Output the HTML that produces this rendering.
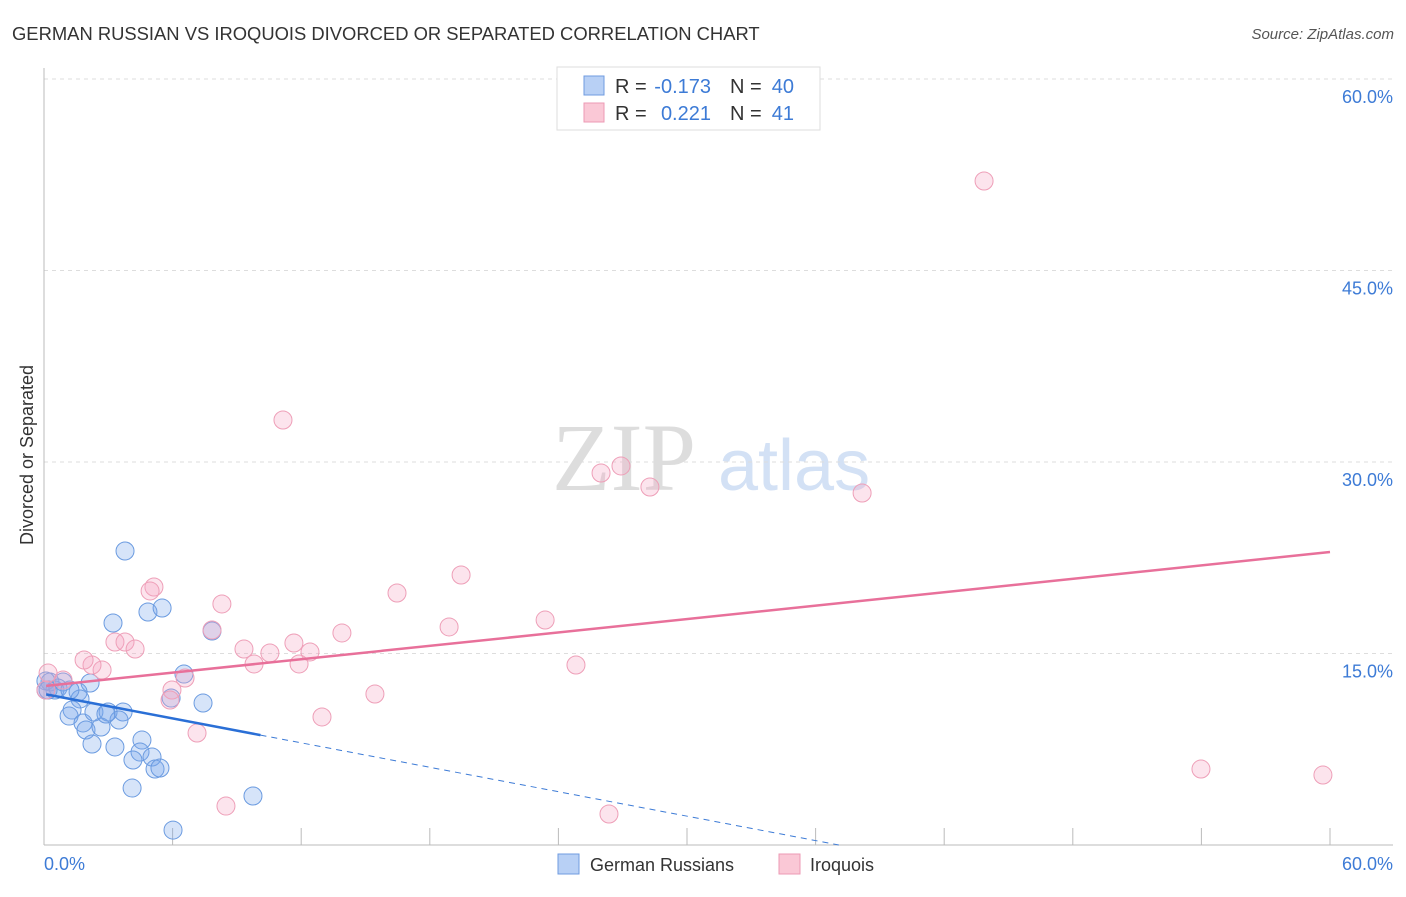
<!DOCTYPE html>
<html><head><meta charset="utf-8"><style>
body{margin:0;background:#fff;font-family:"Liberation Sans",sans-serif}
svg text{font-family:"Liberation Sans",sans-serif}
</style></head><body>
<svg id="chart" width="1406" height="892" xmlns="http://www.w3.org/2000/svg">
<text x="12" y="40" font-size="18.4" fill="#333">GERMAN RUSSIAN VS IROQUOIS DIVORCED OR SEPARATED CORRELATION CHART</text>
<text x="1394" y="39" font-size="15" fill="#555" text-anchor="end" font-style="italic">Source: ZipAtlas.com</text>
<g>
<text x="552" y="490" font-size="96" fill="#ddd" style="font-family:'Liberation Serif',serif">ZIP</text>
<text x="718" y="490" font-size="72" fill="#d3e1f5">atlas</text>
</g>
<g id="grid"></g>
<g id="axes"></g>
<g id="marks"></g>
<text transform="translate(33,455) rotate(-90)" font-size="18" fill="#333" text-anchor="middle">Divorced or Separated</text>
<g>
<rect x="557" y="67" width="263" height="63" fill="#fff" stroke="#ddd"/>
<rect x="584" y="76" width="20" height="19" fill="#b8d0f5" stroke="#6f9be0"/>
<rect x="584" y="103" width="20" height="19" fill="#fac8d6" stroke="#ec9ab4"/>
<text x="615" y="93" font-size="20" fill="#333">R =</text>
<text x="711" y="93" font-size="20" fill="#3d7bd6" text-anchor="end">-0.173</text>
<text x="730" y="93" font-size="20" fill="#333">N =</text>
<text x="794" y="93" font-size="20" fill="#3d7bd6" text-anchor="end">40</text>
<text x="615" y="120" font-size="20" fill="#333">R =</text>
<text x="711" y="120" font-size="20" fill="#3d7bd6" text-anchor="end">0.221</text>
<text x="730" y="120" font-size="20" fill="#333">N =</text>
<text x="794" y="120" font-size="20" fill="#3d7bd6" text-anchor="end">41</text>
</g>
<g>
<rect x="558" y="854" width="21" height="20" fill="#b8d0f5" stroke="#6f9be0"/>
<text x="590" y="871" font-size="18" fill="#333">German Russians</text>
<rect x="779" y="854" width="21" height="20" fill="#fac8d6" stroke="#ec9ab4"/>
<text x="810" y="871" font-size="18" fill="#333">Iroquois</text>
</g>
</svg>
<script>
const yTicks=[15,30,45,60];
const yTickLabels=["15.0%","30.0%","45.0%","60.0%"];
const xTicks=[0,6,12,18,24,30,36,42,48,54,60];
const blueX=[3.78,3.22,4.85,5.51,7.84,2.15,6.53,5.93,7.42,0.28,0.51,0.89,1.59,1.68,1.31,1.17,1.82,1.96,2.33,2.99,2.66,3.69,3.50,2.24,3.31,4.57,4.48,4.15,5.04,5.18,5.41,4.11,9.75,6.02,0.09,0.09,0.65,2.89,1.21,0.19];
const blueY=[23.03,17.39,18.25,18.56,16.76,12.69,13.39,11.51,11.12,12.77,12.14,12.77,11.98,11.44,10.57,10.10,9.56,9.01,10.42,10.42,9.24,10.42,9.79,7.91,7.68,8.22,7.28,6.66,6.89,5.95,6.03,4.46,3.84,1.17,12.85,12.14,12.30,10.26,12.14,12.14];
const pinkX=[43.86,11.15,25.99,26.92,28.27,38.17,19.46,16.47,5.13,4.95,8.30,23.38,18.90,13.90,7.84,3.31,3.78,4.25,9.33,11.66,10.54,12.41,9.80,11.90,24.82,2.71,2.24,1.87,0.19,0.89,0.09,5.97,6.58,5.88,15.44,12.97,7.14,8.49,26.36,53.98,59.67];
const pinkY=[52.01,33.29,29.14,29.69,28.04,27.57,21.15,19.74,20.21,19.90,18.88,17.62,17.08,16.61,16.84,15.90,15.90,15.35,15.35,15.82,15.04,15.12,14.18,14.18,14.10,13.71,14.10,14.49,13.47,12.92,12.14,12.14,13.08,11.36,11.83,10.03,8.77,3.05,2.43,5.95,5.48];
const blueTrend=[11.83,-0.319];
const pinkTrend=[12.45,0.175];
const NS="http://www.w3.org/2000/svg";
const sx=v=>44+v/60*1286, sy=v=>845-v/60*766;
function mk(t,a,p){const e=document.createElementNS(NS,t);for(const k in a)e.setAttribute(k,a[k]);p.appendChild(e);return e;}
const grid=document.getElementById('grid'),axes=document.getElementById('axes'),marks=document.getElementById('marks');
yTicks.forEach((v,i)=>{
 const l=mk('line',{x1:44,x2:1393,y1:sy(v),y2:sy(v),stroke:'#ddd','stroke-dasharray':'4,4'},grid);
 
 
 const t=mk('text',{x:1393,y:sy(v)+24,'font-size':18,fill:'#3d7bd6','text-anchor':'end'},axes);
 t.textContent=yTickLabels[i];
 
 
});
const ax=mk('line',{x1:44,x2:1393,y1:845,y2:845,stroke:'#bbb'},axes);


const ay=mk('line',{x1:44,x2:44,y1:68,y2:845,stroke:'#bbb'},axes);


xTicks.forEach(v=>{const t=mk('line',{x1:sx(v),x2:sx(v),y1:828,y2:845,stroke:'#bbb'},axes);
 
 });
[[0,"0.0%",'start',44],[60,"60.0%",'end',1393]].forEach(d=>{const t=mk('text',{x:d[3],y:870,'font-size':18,fill:'#3d7bd6','text-anchor':d[2]},axes);t.textContent=d[1];
 
 });
function pts(X,Y,fill,stroke,name){X.forEach((x,i)=>{const c=mk('circle',{cx:sx(x),cy:sy(Y[i]),r:9,fill:fill,stroke:stroke,'stroke-width':1},marks);
 
 });}
pts(blueX,blueY,'rgba(120,165,235,0.3)','#6b9be0','german-russian-point');
pts(pinkX,pinkY,'rgba(245,165,195,0.3)','#ee9fb8','iroquois-point');
const xEnd=-blueTrend[0]/blueTrend[1];
const bd=mk('line',{x1:sx(10.1),y1:sy(blueTrend[0]+blueTrend[1]*10.1),x2:sx(xEnd),y2:sy(0),stroke:'#3d7bd6','stroke-width':1,'stroke-dasharray':'6,5'},marks);


const bl=mk('line',{x1:sx(0.1),y1:sy(blueTrend[0]+blueTrend[1]*0.1),x2:sx(10.1),y2:sy(blueTrend[0]+blueTrend[1]*10.1),stroke:'#2a6fd6','stroke-width':2.5},marks);


const pl=mk('line',{x1:sx(0.1),y1:sy(pinkTrend[0]+pinkTrend[1]*0.1),x2:sx(60),y2:sy(pinkTrend[0]+pinkTrend[1]*60),stroke:'#e8709a','stroke-width':2.5},marks);


</script>
</body></html>
